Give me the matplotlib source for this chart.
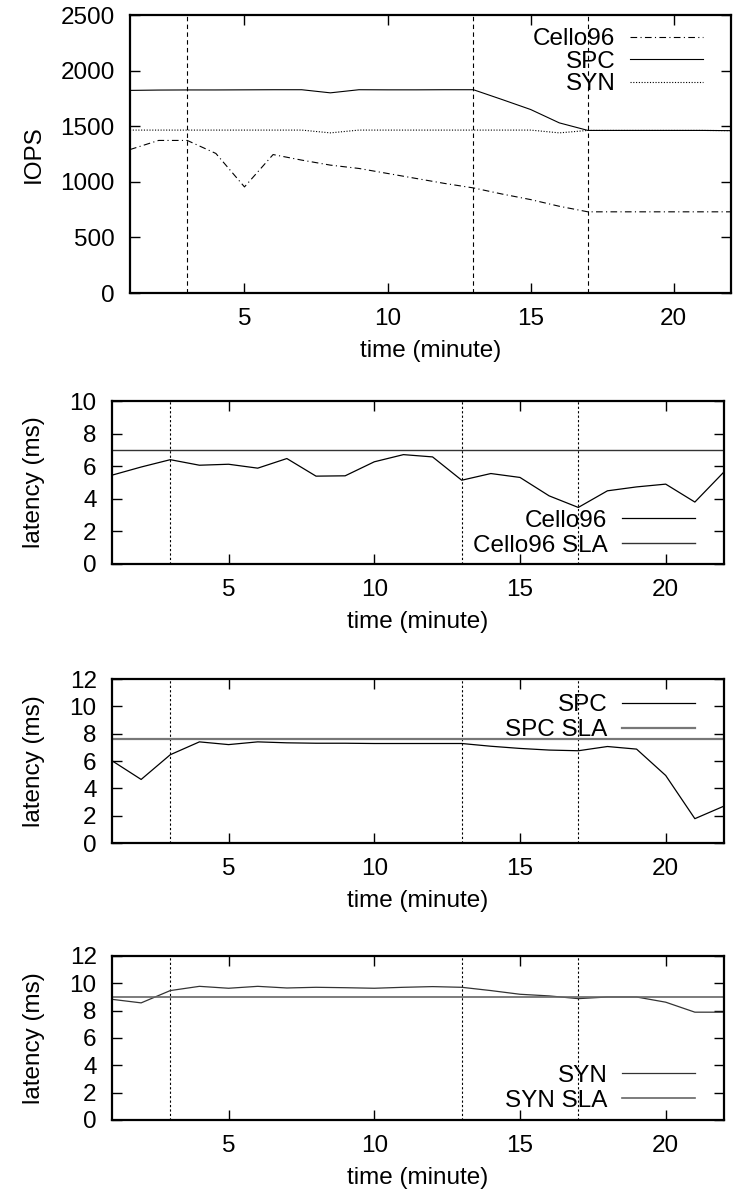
import matplotlib
matplotlib.use("Agg")
import matplotlib.pyplot as plt

plt.rcParams['font.family'] = ['Liberation Sans', 'DejaVu Sans']

minutes = list(range(1, 23))

iops_cello96 = [1290, 1372, 1372, 1255, 954, 1245, 1195, 1150, 1120, 1075, 1030,
                985, 945, 890, 840, 780, 730, 730, 730, 730, 730, 730]
iops_spc = [1822, 1825, 1826, 1826, 1827, 1828, 1828, 1800, 1828, 1827, 1827,
            1828, 1828, 1740, 1650, 1530, 1462, 1462, 1462, 1462, 1462, 1460]
iops_syn = [1465, 1465, 1465, 1465, 1465, 1465, 1465, 1440, 1465, 1465, 1465,
            1465, 1465, 1465, 1465, 1440, 1462, 1462, 1462, 1462, 1462, 1460]

lat_cello96 = [5.45, 5.95, 6.4, 6.06, 6.12, 5.88, 6.47, 5.39, 5.41, 6.27, 6.71,
               6.57, 5.14, 5.55, 5.31, 4.18, 3.47, 4.49, 4.73, 4.9, 3.8, 5.65]
sla_cello96 = 7.0
lat_spc = [6.02, 4.65, 6.46, 7.4, 7.2, 7.4, 7.33, 7.3, 7.3, 7.28, 7.28,
           7.28, 7.28, 7.08, 6.92, 6.8, 6.75, 7.06, 6.87, 4.94, 1.78, 2.7]
sla_spc = 7.6
lat_syn = [8.83, 8.57, 9.47, 9.78, 9.64, 9.78, 9.66, 9.71, 9.68, 9.64, 9.71,
           9.76, 9.71, 9.47, 9.2, 9.08, 8.88, 9.0, 9.0, 8.62, 7.89, 7.89]
sla_syn = 9.0

event_minutes = [3, 13, 17]
xticks = [5, 10, 15, 20]

FS = 17.5
W, H = 734, 1202
fig = plt.figure(figsize=(W / 100, H / 100), dpi=100)

def make_ax(left, top, right, bottom):
    ax = fig.add_axes([left / W, 1 - bottom / H, (right - left) / W, (bottom - top) / H])
    ax._px = (left, top, right, bottom)
    return ax

def style(ax, ylim, yticks, ylabel):
    left, top, right, bottom = ax._px
    ax.set_xlim(1, 22)
    ax.set_ylim(*ylim)
    ax.set_xticks(xticks)
    ax.set_yticks(yticks)
    ax.tick_params(direction='in', top=True, right=True, length=7.5, width=1,
                   labelsize=FS)
    ax.tick_params(axis='y', pad=11)
    ax.tick_params(axis='x', pad=11)
    for s in ax.spines.values():
        s.set_linewidth(1.6)
    ax.set_xlabel('time (minute)', fontsize=FS, va='center')
    ax.xaxis.set_label_coords(0.5, -58 / (bottom - top))
    ax.set_ylabel(ylabel, fontsize=FS, va='center')
    ax.yaxis.set_label_coords((34 - left) / (right - left), 0.5)

def add_legend(ax, loc, anchor_px, spacing):
    left, top, right, bottom = ax._px
    ax_x = (anchor_px[0] - left) / (right - left)
    ax_y = (bottom - anchor_px[1]) / (bottom - top)
    ax.legend(loc=loc, bbox_to_anchor=(ax_x, ax_y), frameon=False,
              markerfirst=False, fontsize=FS, handlelength=3.0,
              labelspacing=spacing, borderaxespad=0, borderpad=0,
              handletextpad=0.6)

# Panel 1: IOPS
ax1 = make_ax(130, 15, 731, 293)
for m in event_minutes:
    ax1.axvline(m, color='black', lw=0.8, ls=(0, (4, 3)))
ax1.plot(minutes, iops_cello96, color='black', lw=0.8, ls=(0, (6, 3, 1, 3)), label='Cello96')
ax1.plot(minutes, iops_spc, color='black', lw=0.8, ls='-', label='SPC')
ax1.plot(minutes, iops_syn, color='black', lw=0.8, ls=(0, (1, 1.5)), label='SYN')
style(ax1, (0, 2500), [0, 500, 1000, 1500, 2000, 2500], 'IOPS')
add_legend(ax1, 'upper right', (703, 28), 0.03)

def latency_panel(top, bottom, data, sla, name, ylim, yticks, loc, anchor_px,
                  data_color, sla_color, sla_lw):
    ax = make_ax(112, top, 724, bottom)
    for m in event_minutes:
        ax.axvline(m, color='black', lw=0.8, ls=(0, (2, 2)))
    ax.plot(minutes, data, color=data_color, lw=0.9, label=name)
    ax.axhline(sla, color=sla_color, lw=sla_lw, label=name + ' SLA')
    style(ax, ylim, yticks, 'latency (ms)')
    add_legend(ax, loc, anchor_px, 0.14)
    return ax

latency_panel(401, 564, lat_cello96, sla_cello96, 'Cello96', (0, 10), [0, 2, 4, 6, 8, 10],
              'lower right', (695, 557), 'black', '#333333', 1.0)
latency_panel(679, 843, lat_spc, sla_spc, 'SPC', (0, 12), [0, 2, 4, 6, 8, 10, 12],
              'upper right', (695, 694), 'black', '#777777', 1.6)
latency_panel(956, 1120, lat_syn, sla_syn, 'SYN', (0, 12), [0, 2, 4, 6, 8, 10, 12],
              'lower right', (695, 1112), '#333333', '#666666', 1.2)

fig.savefig('out.png', dpi=100)
